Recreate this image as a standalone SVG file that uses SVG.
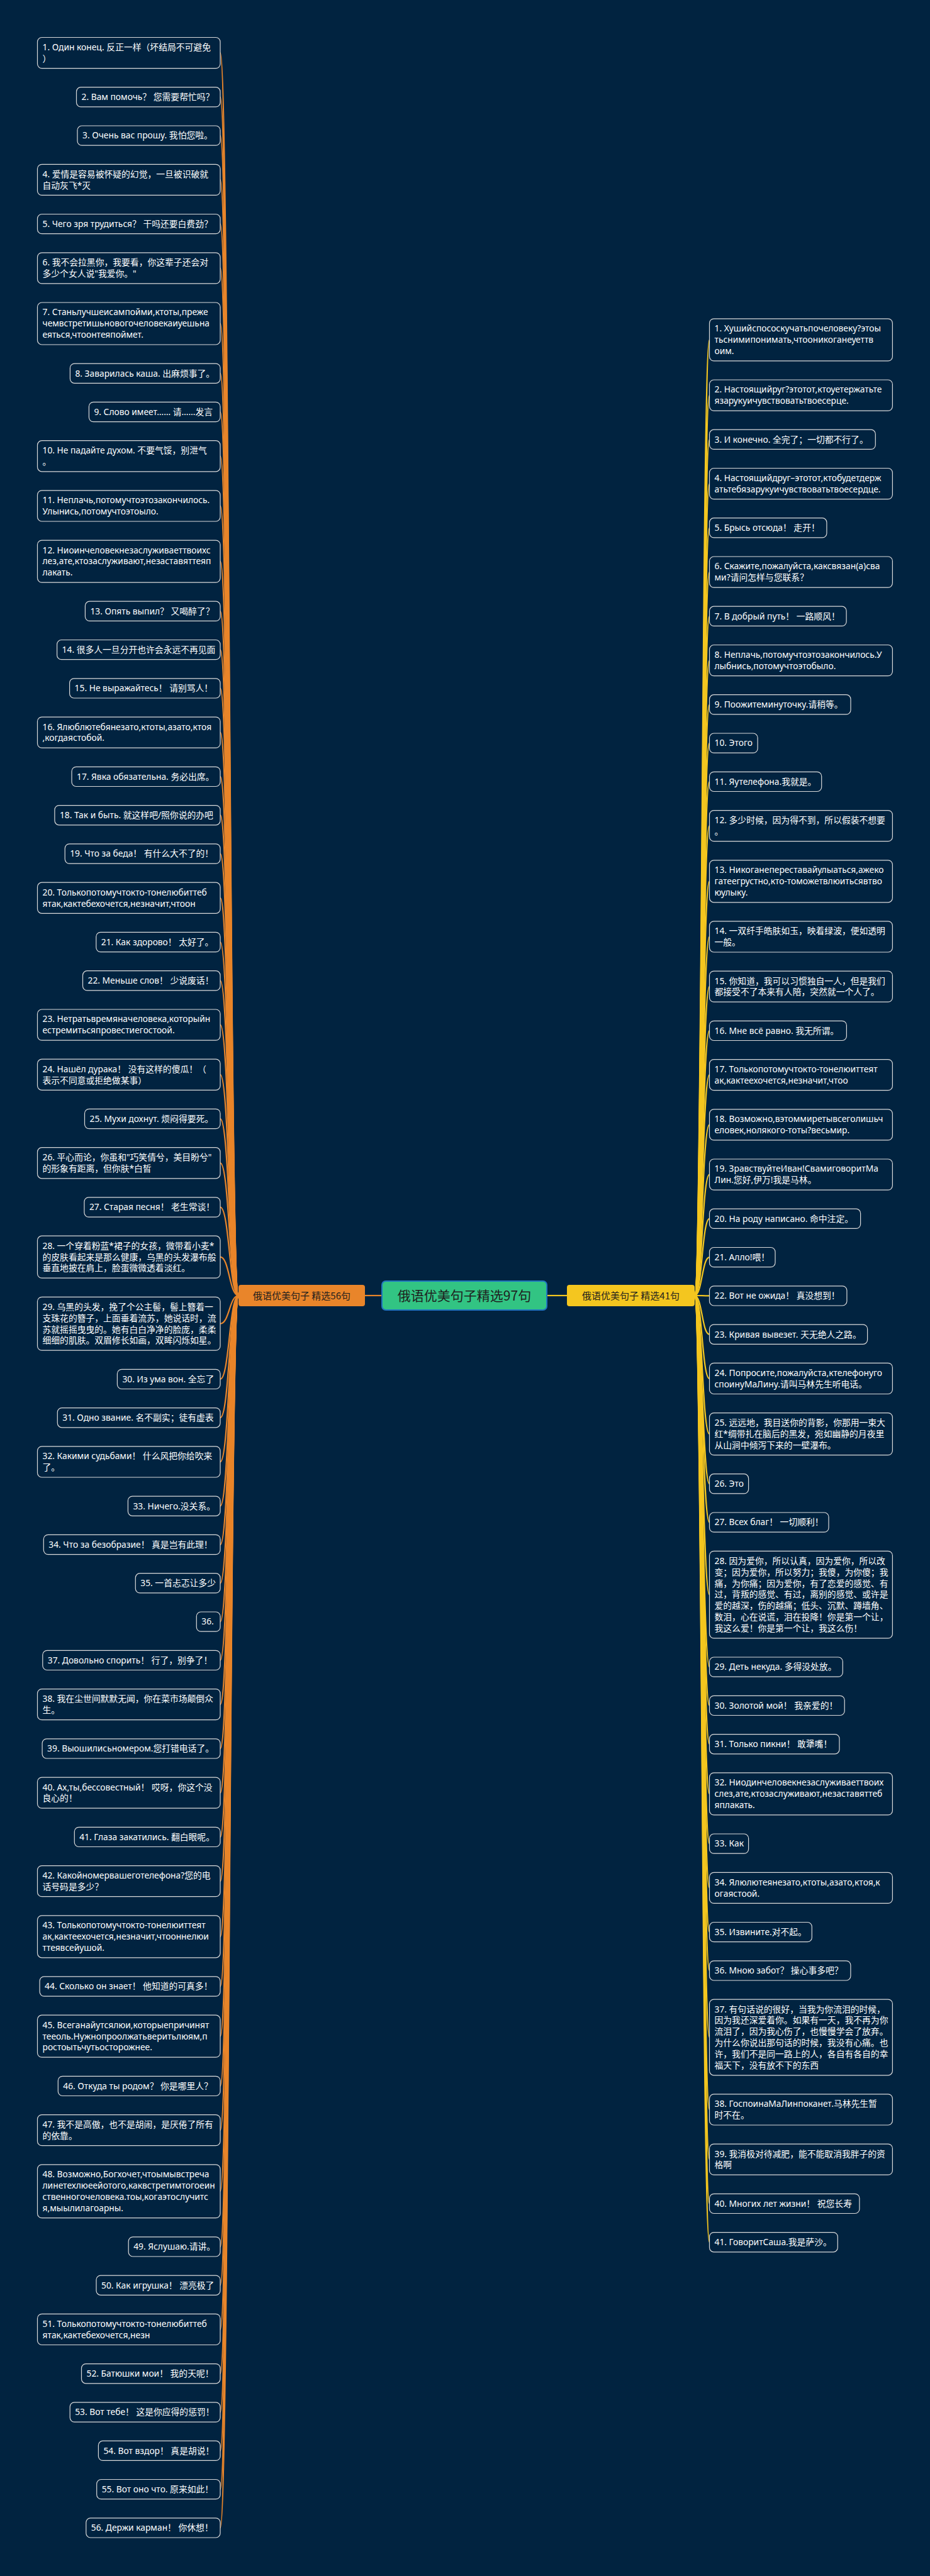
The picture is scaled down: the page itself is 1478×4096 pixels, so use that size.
<svg xmlns="http://www.w3.org/2000/svg" width="1478" height="4096" viewBox="0 0 1478 4096">
<style>
.n rect{fill:#012340;stroke:#d9d9d9;stroke-width:1.2}
.n text{font-family:'Noto Sans','Noto Sans CJK SC',sans-serif;font-size:13.8px;fill:#ffffff}
.lc path{fill:none;stroke:#e9852a;stroke-width:2.2}
.rc path{fill:none;stroke:#f4c61f;stroke-width:2.2}
.lab{font-family:'Noto Sans CJK SC','Noto Sans',sans-serif;fill:#1e1e1e;text-anchor:middle}
</style>
<rect x="0" y="0" width="1478" height="4096" fill="#012340"/>
<g id="connectors">
<g class="lc">
<path d="M580 2060 L607 2060"/>
<path d="M379 2060 C364.5 2060 364.5 84.05 350 84.05"/>
<path d="M379 2060 C364.5 2060 364.5 154.3 350 154.3"/>
<path d="M379 2060 C364.5 2060 364.5 215.6 350 215.6"/>
<path d="M379 2060 C364.5 2060 364.5 285.85 350 285.85"/>
<path d="M379 2060 C364.5 2060 364.5 356.1 350 356.1"/>
<path d="M379 2060 C364.5 2060 364.5 426.35 350 426.35"/>
<path d="M379 2060 C364.5 2060 364.5 514.5 350 514.5"/>
<path d="M379 2060 C364.5 2060 364.5 593.7 350 593.7"/>
<path d="M379 2060 C364.5 2060 364.5 655 350 655"/>
<path d="M379 2060 C364.5 2060 364.5 725.25 350 725.25"/>
<path d="M379 2060 C364.5 2060 364.5 804.45 350 804.45"/>
<path d="M379 2060 C364.5 2060 364.5 892.6 350 892.6"/>
<path d="M379 2060 C364.5 2060 364.5 971.8 350 971.8"/>
<path d="M379 2060 C364.5 2060 364.5 1033.1 350 1033.1"/>
<path d="M379 2060 C364.5 2060 364.5 1094.4 350 1094.4"/>
<path d="M379 2060 C364.5 2060 364.5 1164.65 350 1164.65"/>
<path d="M379 2060 C364.5 2060 364.5 1234.9 350 1234.9"/>
<path d="M379 2060 C364.5 2060 364.5 1296.2 350 1296.2"/>
<path d="M379 2060 C364.5 2060 364.5 1357.5 350 1357.5"/>
<path d="M379 2060 C364.5 2060 364.5 1427.75 350 1427.75"/>
<path d="M379 2060 C364.5 2060 364.5 1498 350 1498"/>
<path d="M379 2060 C364.5 2060 364.5 1559.3 350 1559.3"/>
<path d="M379 2060 C364.5 2060 364.5 1629.55 350 1629.55"/>
<path d="M379 2060 C364.5 2060 364.5 1708.75 350 1708.75"/>
<path d="M379 2060 C364.5 2060 364.5 1779 350 1779"/>
<path d="M379 2060 C364.5 2060 364.5 1849.25 350 1849.25"/>
<path d="M379 2060 C364.5 2060 364.5 1919.5 350 1919.5"/>
<path d="M379 2060 C364.5 2060 364.5 1998.7 350 1998.7"/>
<path d="M379 2060 C364.5 2060 364.5 2104.75 350 2104.75"/>
<path d="M379 2060 C364.5 2060 364.5 2192.9 350 2192.9"/>
<path d="M379 2060 C364.5 2060 364.5 2254.2 350 2254.2"/>
<path d="M379 2060 C364.5 2060 364.5 2324.45 350 2324.45"/>
<path d="M379 2060 C364.5 2060 364.5 2394.7 350 2394.7"/>
<path d="M379 2060 C364.5 2060 364.5 2456 350 2456"/>
<path d="M379 2060 C364.5 2060 364.5 2517.3 350 2517.3"/>
<path d="M379 2060 C364.5 2060 364.5 2578.6 350 2578.6"/>
<path d="M379 2060 C364.5 2060 364.5 2639.9 350 2639.9"/>
<path d="M379 2060 C364.5 2060 364.5 2710.15 350 2710.15"/>
<path d="M379 2060 C364.5 2060 364.5 2780.4 350 2780.4"/>
<path d="M379 2060 C364.5 2060 364.5 2850.65 350 2850.65"/>
<path d="M379 2060 C364.5 2060 364.5 2920.9 350 2920.9"/>
<path d="M379 2060 C364.5 2060 364.5 2991.15 350 2991.15"/>
<path d="M379 2060 C364.5 2060 364.5 3079.3 350 3079.3"/>
<path d="M379 2060 C364.5 2060 364.5 3158.5 350 3158.5"/>
<path d="M379 2060 C364.5 2060 364.5 3237.7 350 3237.7"/>
<path d="M379 2060 C364.5 2060 364.5 3316.9 350 3316.9"/>
<path d="M379 2060 C364.5 2060 364.5 3387.15 350 3387.15"/>
<path d="M379 2060 C364.5 2060 364.5 3484.25 350 3484.25"/>
<path d="M379 2060 C364.5 2060 364.5 3572.4 350 3572.4"/>
<path d="M379 2060 C364.5 2060 364.5 3633.7 350 3633.7"/>
<path d="M379 2060 C364.5 2060 364.5 3703.95 350 3703.95"/>
<path d="M379 2060 C364.5 2060 364.5 3774.2 350 3774.2"/>
<path d="M379 2060 C364.5 2060 364.5 3835.5 350 3835.5"/>
<path d="M379 2060 C364.5 2060 364.5 3896.8 350 3896.8"/>
<path d="M379 2060 C364.5 2060 364.5 3958.1 350 3958.1"/>
<path d="M379 2060 C364.5 2060 364.5 4019.4 350 4019.4"/>
</g>
<g class="rc">
<path d="M869 2060 L901 2060"/>
<path d="M1104 2060 C1115.75 2060 1115.75 540.4 1127.5 540.4"/>
<path d="M1104 2060 C1115.75 2060 1115.75 628.55 1127.5 628.55"/>
<path d="M1104 2060 C1115.75 2060 1115.75 698.8 1127.5 698.8"/>
<path d="M1104 2060 C1115.75 2060 1115.75 769.05 1127.5 769.05"/>
<path d="M1104 2060 C1115.75 2060 1115.75 839.3 1127.5 839.3"/>
<path d="M1104 2060 C1115.75 2060 1115.75 909.55 1127.5 909.55"/>
<path d="M1104 2060 C1115.75 2060 1115.75 979.8 1127.5 979.8"/>
<path d="M1104 2060 C1115.75 2060 1115.75 1050.05 1127.5 1050.05"/>
<path d="M1104 2060 C1115.75 2060 1115.75 1120.3 1127.5 1120.3"/>
<path d="M1104 2060 C1115.75 2060 1115.75 1181.6 1127.5 1181.6"/>
<path d="M1104 2060 C1115.75 2060 1115.75 1242.9 1127.5 1242.9"/>
<path d="M1104 2060 C1115.75 2060 1115.75 1313.15 1127.5 1313.15"/>
<path d="M1104 2060 C1115.75 2060 1115.75 1401.3 1127.5 1401.3"/>
<path d="M1104 2060 C1115.75 2060 1115.75 1489.45 1127.5 1489.45"/>
<path d="M1104 2060 C1115.75 2060 1115.75 1568.65 1127.5 1568.65"/>
<path d="M1104 2060 C1115.75 2060 1115.75 1638.9 1127.5 1638.9"/>
<path d="M1104 2060 C1115.75 2060 1115.75 1709.15 1127.5 1709.15"/>
<path d="M1104 2060 C1115.75 2060 1115.75 1788.35 1127.5 1788.35"/>
<path d="M1104 2060 C1115.75 2060 1115.75 1867.55 1127.5 1867.55"/>
<path d="M1104 2060 C1115.75 2060 1115.75 1937.8 1127.5 1937.8"/>
<path d="M1104 2060 C1115.75 2060 1115.75 1999.1 1127.5 1999.1"/>
<path d="M1104 2060 C1115.75 2060 1115.75 2060.4 1127.5 2060.4"/>
<path d="M1104 2060 C1115.75 2060 1115.75 2121.7 1127.5 2121.7"/>
<path d="M1104 2060 C1115.75 2060 1115.75 2191.95 1127.5 2191.95"/>
<path d="M1104 2060 C1115.75 2060 1115.75 2280.1 1127.5 2280.1"/>
<path d="M1104 2060 C1115.75 2060 1115.75 2359.3 1127.5 2359.3"/>
<path d="M1104 2060 C1115.75 2060 1115.75 2420.6 1127.5 2420.6"/>
<path d="M1104 2060 C1115.75 2060 1115.75 2535.6 1127.5 2535.6"/>
<path d="M1104 2060 C1115.75 2060 1115.75 2650.6 1127.5 2650.6"/>
<path d="M1104 2060 C1115.75 2060 1115.75 2711.9 1127.5 2711.9"/>
<path d="M1104 2060 C1115.75 2060 1115.75 2773.2 1127.5 2773.2"/>
<path d="M1104 2060 C1115.75 2060 1115.75 2852.4 1127.5 2852.4"/>
<path d="M1104 2060 C1115.75 2060 1115.75 2931.6 1127.5 2931.6"/>
<path d="M1104 2060 C1115.75 2060 1115.75 3001.85 1127.5 3001.85"/>
<path d="M1104 2060 C1115.75 2060 1115.75 3072.1 1127.5 3072.1"/>
<path d="M1104 2060 C1115.75 2060 1115.75 3133.4 1127.5 3133.4"/>
<path d="M1104 2060 C1115.75 2060 1115.75 3239.45 1127.5 3239.45"/>
<path d="M1104 2060 C1115.75 2060 1115.75 3354.45 1127.5 3354.45"/>
<path d="M1104 2060 C1115.75 2060 1115.75 3433.65 1127.5 3433.65"/>
<path d="M1104 2060 C1115.75 2060 1115.75 3503.9 1127.5 3503.9"/>
<path d="M1104 2060 C1115.75 2060 1115.75 3565.2 1127.5 3565.2"/>
</g>
</g>
<g id="center"><rect x="607" y="2037" width="262" height="46" rx="6" fill="#32c483" stroke="#1f74c0" stroke-width="2"/><text class="lab" x="738" y="2068" font-size="21">俄语优美句子精选97句</text></g>
<g id="branch-left"><rect x="379" y="2043" width="201" height="34" rx="4" fill="#e9852a"/><text class="lab" x="479.5" y="2065.5" font-size="15">俄语优美句子 精选56句</text></g>
<g id="branch-right"><rect x="901" y="2043" width="203" height="34" rx="4" fill="#f4c61f"/><text class="lab" x="1002.5" y="2065.5" font-size="15">俄语优美句子 精选41句</text></g>
<g class="n">
<g id="l1"><rect x="59.5" y="59.5" width="290.5" height="49.1" rx="7"/><text x="67.5" y="79.9"><tspan x="67.5">1. Один конец. 反正一样（坏结局不可避免</tspan><tspan x="67.5" dy="17.9">）</tspan></text></g>
<g id="l2"><rect x="121.5" y="138.7" width="228.5" height="31.2" rx="7"/><text x="129.5" y="159.1">2. Вам помочь？ 您需要帮忙吗？</text></g>
<g id="l3"><rect x="123" y="200" width="227" height="31.2" rx="7"/><text x="131" y="220.4">3. Очень вас прошу. 我怕您啦。</text></g>
<g id="l4"><rect x="59.5" y="261.3" width="290.5" height="49.1" rx="7"/><text x="67.5" y="281.7"><tspan x="67.5">4. 爱情是容易被怀疑的幻觉，一旦被识破就</tspan><tspan x="67.5" dy="17.9">自动灰飞*灭</tspan></text></g>
<g id="l5"><rect x="59.5" y="340.5" width="290.5" height="31.2" rx="7"/><text x="67.5" y="360.9">5. Чего зря трудиться？ 干吗还要白费劲？</text></g>
<g id="l6"><rect x="59.5" y="401.8" width="290.5" height="49.1" rx="7"/><text x="67.5" y="422.2"><tspan x="67.5">6. 我不会拉黑你，我要看，你这辈子还会对</tspan><tspan x="67.5" dy="17.9">多少个女人说"我爱你。"</tspan></text></g>
<g id="l7"><rect x="59.5" y="481" width="290.5" height="67" rx="7"/><text x="67.5" y="501.4"><tspan x="67.5">7. Станьлучшеисампойми,ктоты,преже</tspan><tspan x="67.5" dy="17.9">чемвстретишьновогочеловекаиуешьна</tspan><tspan x="67.5" dy="17.9">еяться,чтоонтеяпоймет.</tspan></text></g>
<g id="l8"><rect x="111.4" y="578.1" width="238.6" height="31.2" rx="7"/><text x="119.4" y="598.5">8. Заварилась каша. 出麻烦事了。</text></g>
<g id="l9"><rect x="141.4" y="639.4" width="208.6" height="31.2" rx="7"/><text x="149.4" y="659.8">9. Слово имеет…… 请……发言</text></g>
<g id="l10"><rect x="59.5" y="700.7" width="290.5" height="49.1" rx="7"/><text x="67.5" y="721.1"><tspan x="67.5">10. Не падайте духом. 不要气馁，别泄气</tspan><tspan x="67.5" dy="17.9">。</tspan></text></g>
<g id="l11"><rect x="59.5" y="779.9" width="290.5" height="49.1" rx="7"/><text x="67.5" y="800.3"><tspan x="67.5">11. Неплачь,потомучтоэтозакончилось.</tspan><tspan x="67.5" dy="17.9">Улынись,потомучтоэтоыло.</tspan></text></g>
<g id="l12"><rect x="59.5" y="859.1" width="290.5" height="67" rx="7"/><text x="67.5" y="879.5"><tspan x="67.5">12. Ниоинчеловекнезаслуживаеттвоихс</tspan><tspan x="67.5" dy="17.9">лез,ате,ктозаслуживают,незаставяттеяп</tspan><tspan x="67.5" dy="17.9">лакать.</tspan></text></g>
<g id="l13"><rect x="135.4" y="956.2" width="214.6" height="31.2" rx="7"/><text x="143.4" y="976.6">13. Опять выпил？ 又喝醉了？</text></g>
<g id="l14"><rect x="90.6" y="1017.5" width="259.4" height="31.2" rx="7"/><text x="98.6" y="1037.9">14. 很多人一旦分开也许会永远不再见面</text></g>
<g id="l15"><rect x="110.6" y="1078.8" width="239.4" height="31.2" rx="7"/><text x="118.6" y="1099.2">15. Не выражайтесь！ 请别骂人！</text></g>
<g id="l16"><rect x="59.5" y="1140.1" width="290.5" height="49.1" rx="7"/><text x="67.5" y="1160.5"><tspan x="67.5">16. Ялюблютебянезато,ктоты,азато,ктоя</tspan><tspan x="67.5" dy="17.9">,когдаястобой.</tspan></text></g>
<g id="l17"><rect x="114" y="1219.3" width="236" height="31.2" rx="7"/><text x="122" y="1239.7">17. Явка обязательна. 务必出席。</text></g>
<g id="l18"><rect x="86.9" y="1280.6" width="263.1" height="31.2" rx="7"/><text x="94.9" y="1301">18. Так и быть. 就这样吧/照你说的办吧</text></g>
<g id="l19"><rect x="103.2" y="1341.9" width="246.8" height="31.2" rx="7"/><text x="111.2" y="1362.3">19. Что за беда！ 有什么大不了的！</text></g>
<g id="l20"><rect x="59.5" y="1403.2" width="290.5" height="49.1" rx="7"/><text x="67.5" y="1423.6"><tspan x="67.5">20. Толькопотомучтокто-тонелюбиттеб</tspan><tspan x="67.5" dy="17.9">ятак,кактебехочется,незначит,чтоон</tspan></text></g>
<g id="l21"><rect x="152.8" y="1482.4" width="197.2" height="31.2" rx="7"/><text x="160.8" y="1502.8">21. Как здорово！ 太好了。</text></g>
<g id="l22"><rect x="131.5" y="1543.7" width="218.5" height="31.2" rx="7"/><text x="139.5" y="1564.1">22. Меньше слов！ 少说废话！</text></g>
<g id="l23"><rect x="59.5" y="1605" width="290.5" height="49.1" rx="7"/><text x="67.5" y="1625.4"><tspan x="67.5">23. Нетратьвремяначеловека,которыйн</tspan><tspan x="67.5" dy="17.9">естремитьсяпровестиегостоой.</tspan></text></g>
<g id="l24"><rect x="59.5" y="1684.2" width="290.5" height="49.1" rx="7"/><text x="67.5" y="1704.6"><tspan x="67.5">24. Нашёл дурака！ 没有这样的傻瓜！（</tspan><tspan x="67.5" dy="17.9">表示不同意或拒绝做某事）</tspan></text></g>
<g id="l25"><rect x="134.5" y="1763.4" width="215.5" height="31.2" rx="7"/><text x="142.5" y="1783.8">25. Мухи дохнут. 烦闷得要死。</text></g>
<g id="l26"><rect x="59.5" y="1824.7" width="290.5" height="49.1" rx="7"/><text x="67.5" y="1845.1"><tspan x="67.5">26. 平心而论，你虽和"巧笑倩兮，美目盼兮"</tspan><tspan x="67.5" dy="17.9">的形象有距离，但你肤*白皙</tspan></text></g>
<g id="l27"><rect x="133.9" y="1903.9" width="216.1" height="31.2" rx="7"/><text x="141.9" y="1924.3">27. Старая песня！ 老生常谈！</text></g>
<g id="l28"><rect x="59.5" y="1965.2" width="290.5" height="67" rx="7"/><text x="67.5" y="1985.6"><tspan x="67.5">28. 一个穿着粉蓝*裙子的女孩，微带着小麦*</tspan><tspan x="67.5" dy="17.9">的皮肤看起来是那么健康，乌黑的头发瀑布般</tspan><tspan x="67.5" dy="17.9">垂直地披在肩上，脸蛋微微透着淡红。</tspan></text></g>
<g id="l29"><rect x="59.5" y="2062.3" width="290.5" height="84.9" rx="7"/><text x="67.5" y="2082.7"><tspan x="67.5">29. 乌黑的头发，挽了个公主髻，髻上簪着一</tspan><tspan x="67.5" dy="17.9">支珠花的簪子，上面垂着流苏，她说话时，流</tspan><tspan x="67.5" dy="17.9">苏就摇摇曳曳的。她有白白净净的脸庞，柔柔</tspan><tspan x="67.5" dy="17.9">细细的肌肤。双眉修长如画，双眸闪烁如星。</tspan></text></g>
<g id="l30"><rect x="186.4" y="2177.3" width="163.6" height="31.2" rx="7"/><text x="194.4" y="2197.7">30. Из ума вон. 全忘了</text></g>
<g id="l31"><rect x="91.3" y="2238.6" width="258.7" height="31.2" rx="7"/><text x="99.3" y="2259">31. Одно звание. 名不副实；徒有虚表</text></g>
<g id="l32"><rect x="59.5" y="2299.9" width="290.5" height="49.1" rx="7"/><text x="67.5" y="2320.3"><tspan x="67.5">32. Какими судьбами！ 什么风把你给吹来</tspan><tspan x="67.5" dy="17.9">了。</tspan></text></g>
<g id="l33"><rect x="203.4" y="2379.1" width="146.6" height="31.2" rx="7"/><text x="211.4" y="2399.5">33. Ничего.没关系。</text></g>
<g id="l34"><rect x="69.3" y="2440.4" width="280.7" height="31.2" rx="7"/><text x="77.3" y="2460.8">34. Что за безобразие！ 真是岂有此理！</text></g>
<g id="l35"><rect x="215.3" y="2501.7" width="134.7" height="31.2" rx="7"/><text x="223.3" y="2522.1">35. 一首忐忑让多少</text></g>
<g id="l36"><rect x="312.3" y="2563" width="37.7" height="31.2" rx="7"/><text x="320.3" y="2583.4">36.</text></g>
<g id="l37"><rect x="67.8" y="2624.3" width="282.2" height="31.2" rx="7"/><text x="75.8" y="2644.7">37. Довольно спорить！ 行了，别争了！</text></g>
<g id="l38"><rect x="59.5" y="2685.6" width="290.5" height="49.1" rx="7"/><text x="67.5" y="2706"><tspan x="67.5">38. 我在尘世间默默无闻，你在菜市场颠倒众</tspan><tspan x="67.5" dy="17.9">生。</tspan></text></g>
<g id="l39"><rect x="67.1" y="2764.8" width="282.9" height="31.2" rx="7"/><text x="75.1" y="2785.2">39. Выошилисьномером.您打错电话了。</text></g>
<g id="l40"><rect x="59.5" y="2826.1" width="290.5" height="49.1" rx="7"/><text x="67.5" y="2846.5"><tspan x="67.5">40. Ах,ты,бессовестный！ 哎呀，你这个没</tspan><tspan x="67.5" dy="17.9">良心的！</tspan></text></g>
<g id="l41"><rect x="118.3" y="2905.3" width="231.7" height="31.2" rx="7"/><text x="126.3" y="2925.7">41. Глаза закатились. 翻白眼呢。</text></g>
<g id="l42"><rect x="59.5" y="2966.6" width="290.5" height="49.1" rx="7"/><text x="67.5" y="2987"><tspan x="67.5">42. Какойномервашеготелефона?您的电</tspan><tspan x="67.5" dy="17.9">话号码是多少？</tspan></text></g>
<g id="l43"><rect x="59.5" y="3045.8" width="290.5" height="67" rx="7"/><text x="67.5" y="3066.2"><tspan x="67.5">43. Толькопотомучтокто-тонелюиттеят</tspan><tspan x="67.5" dy="17.9">ак,кактеехочется,незначит,чтооннелюи</tspan><tspan x="67.5" dy="17.9">ттеявсейушой.</tspan></text></g>
<g id="l44"><rect x="63.1" y="3142.9" width="286.9" height="31.2" rx="7"/><text x="71.1" y="3163.3">44. Сколько он знает！ 他知道的可真多！</text></g>
<g id="l45"><rect x="59.5" y="3204.2" width="290.5" height="67" rx="7"/><text x="67.5" y="3224.6"><tspan x="67.5">45. Всеганайутсялюи,которыепричинят</tspan><tspan x="67.5" dy="17.9">тееоль.Нужнопроолжатьверитьлюям,п</tspan><tspan x="67.5" dy="17.9">ростоытьчутьосторожнее.</tspan></text></g>
<g id="l46"><rect x="92.3" y="3301.3" width="257.7" height="31.2" rx="7"/><text x="100.3" y="3321.7">46. Откуда ты родом？ 你是哪里人？</text></g>
<g id="l47"><rect x="59.5" y="3362.6" width="290.5" height="49.1" rx="7"/><text x="67.5" y="3383"><tspan x="67.5">47. 我不是高傲，也不是胡闹，是厌倦了所有</tspan><tspan x="67.5" dy="17.9">的依靠。</tspan></text></g>
<g id="l48"><rect x="59.5" y="3441.8" width="290.5" height="84.9" rx="7"/><text x="67.5" y="3462.2"><tspan x="67.5">48. Возможно,Богхочет,чтоымывстреча</tspan><tspan x="67.5" dy="17.9">линетехлюеейотого,каквстретимтогоеин</tspan><tspan x="67.5" dy="17.9">ственногочеловека.тоы,когаэтослучитс</tspan><tspan x="67.5" dy="17.9">я,мыылилагоарны.</tspan></text></g>
<g id="l49"><rect x="204.2" y="3556.8" width="145.8" height="31.2" rx="7"/><text x="212.2" y="3577.2">49. Яслушаю.请讲。</text></g>
<g id="l50"><rect x="153" y="3618.1" width="197" height="31.2" rx="7"/><text x="161" y="3638.5">50. Как игрушка！ 漂亮极了</text></g>
<g id="l51"><rect x="59.5" y="3679.4" width="290.5" height="49.1" rx="7"/><text x="67.5" y="3699.8"><tspan x="67.5">51. Толькопотомучтокто-тонелюбиттеб</tspan><tspan x="67.5" dy="17.9">ятак,кактебехочется,незн</tspan></text></g>
<g id="l52"><rect x="129.5" y="3758.6" width="220.5" height="31.2" rx="7"/><text x="137.5" y="3779">52. Батюшки мои！ 我的天呢！</text></g>
<g id="l53"><rect x="111.2" y="3819.9" width="238.8" height="31.2" rx="7"/><text x="119.2" y="3840.3">53. Вот тебе！ 这是你应得的惩罚！</text></g>
<g id="l54"><rect x="156.4" y="3881.2" width="193.6" height="31.2" rx="7"/><text x="164.4" y="3901.6">54. Вот вздор！ 真是胡说！</text></g>
<g id="l55"><rect x="153.7" y="3942.5" width="196.3" height="31.2" rx="7"/><text x="161.7" y="3962.9">55. Вот оно что. 原来如此！</text></g>
<g id="l56"><rect x="136.8" y="4003.8" width="213.2" height="31.2" rx="7"/><text x="144.8" y="4024.2">56. Держи карман！ 你休想！</text></g>

<g id="r1"><rect x="1127.5" y="506.9" width="290.9" height="67" rx="7"/><text x="1135.5" y="527.3"><tspan x="1135.5">1. Хушийспососкучатьпочеловеку?этоы</tspan><tspan x="1135.5" dy="17.9">тьснимипонимать,чтооникоганеуеттв</tspan><tspan x="1135.5" dy="17.9">оим.</tspan></text></g>
<g id="r2"><rect x="1127.5" y="604" width="290.9" height="49.1" rx="7"/><text x="1135.5" y="624.4"><tspan x="1135.5">2. Настоящийруг?этотот,ктоуетержатьте</tspan><tspan x="1135.5" dy="17.9">язарукуичувствоватьтвоесерце.</tspan></text></g>
<g id="r3"><rect x="1127.5" y="683.2" width="263.8" height="31.2" rx="7"/><text x="1135.5" y="703.6">3. И конечно. 全完了；一切都不行了。</text></g>
<g id="r4"><rect x="1127.5" y="744.5" width="290.9" height="49.1" rx="7"/><text x="1135.5" y="764.9"><tspan x="1135.5">4. Настоящийдруг–этотот,ктобудетдерж</tspan><tspan x="1135.5" dy="17.9">атьтебязарукуичувствоватьтвоесердце.</tspan></text></g>
<g id="r5"><rect x="1127.5" y="823.7" width="186.4" height="31.2" rx="7"/><text x="1135.5" y="844.1">5. Брысь отсюда！ 走开！</text></g>
<g id="r6"><rect x="1127.5" y="885" width="290.9" height="49.1" rx="7"/><text x="1135.5" y="905.4"><tspan x="1135.5">6. Скажите,пожалуйста,каксвязан(а)сва</tspan><tspan x="1135.5" dy="17.9">ми?请问怎样与您联系？</tspan></text></g>
<g id="r7"><rect x="1127.5" y="964.2" width="217.6" height="31.2" rx="7"/><text x="1135.5" y="984.6">7. В добрый путь！ 一路顺风！</text></g>
<g id="r8"><rect x="1127.5" y="1025.5" width="290.9" height="49.1" rx="7"/><text x="1135.5" y="1045.9"><tspan x="1135.5">8. Неплачь,потомучтоэтозакончилось.У</tspan><tspan x="1135.5" dy="17.9">лыбнись,потомучтоэтобыло.</tspan></text></g>
<g id="r9"><rect x="1127.5" y="1104.7" width="224.5" height="31.2" rx="7"/><text x="1135.5" y="1125.1">9. Поожитеминуточку.请稍等。</text></g>
<g id="r10"><rect x="1127.5" y="1166" width="76.6" height="31.2" rx="7"/><text x="1135.5" y="1186.4">10. Этого</text></g>
<g id="r11"><rect x="1127.5" y="1227.3" width="178.2" height="31.2" rx="7"/><text x="1135.5" y="1247.7">11. Яутелефона.我就是。</text></g>
<g id="r12"><rect x="1127.5" y="1288.6" width="290.9" height="49.1" rx="7"/><text x="1135.5" y="1309"><tspan x="1135.5">12. 多少时候，因为得不到，所以假装不想要</tspan><tspan x="1135.5" dy="17.9">。</tspan></text></g>
<g id="r13"><rect x="1127.5" y="1367.8" width="290.9" height="67" rx="7"/><text x="1135.5" y="1388.2"><tspan x="1135.5">13. Никоганепереставайулыаться,ажеко</tspan><tspan x="1135.5" dy="17.9">гатеегрустно,кто-томожетвлюитьсявтво</tspan><tspan x="1135.5" dy="17.9">юулыку.</tspan></text></g>
<g id="r14"><rect x="1127.5" y="1464.9" width="290.9" height="49.1" rx="7"/><text x="1135.5" y="1485.3"><tspan x="1135.5">14. 一双纤手皓肤如玉，映着绿波，便如透明</tspan><tspan x="1135.5" dy="17.9">一般。</tspan></text></g>
<g id="r15"><rect x="1127.5" y="1544.1" width="290.9" height="49.1" rx="7"/><text x="1135.5" y="1564.5"><tspan x="1135.5">15. 你知道，我可以习惯独自一人，但是我们</tspan><tspan x="1135.5" dy="17.9">都接受不了本来有人陪，突然就一个人了。</tspan></text></g>
<g id="r16"><rect x="1127.5" y="1623.3" width="217.9" height="31.2" rx="7"/><text x="1135.5" y="1643.7">16. Мне всё равно. 我无所谓。</text></g>
<g id="r17"><rect x="1127.5" y="1684.6" width="290.9" height="49.1" rx="7"/><text x="1135.5" y="1705"><tspan x="1135.5">17. Толькопотомучтокто-тонелюиттеят</tspan><tspan x="1135.5" dy="17.9">ак,кактеехочется,незначит,чтоо</tspan></text></g>
<g id="r18"><rect x="1127.5" y="1763.8" width="290.9" height="49.1" rx="7"/><text x="1135.5" y="1784.2"><tspan x="1135.5">18. Возможно,вэтоммиретывсеголишьч</tspan><tspan x="1135.5" dy="17.9">еловек,нолякого-тоты?весьмир.</tspan></text></g>
<g id="r19"><rect x="1127.5" y="1843" width="290.9" height="49.1" rx="7"/><text x="1135.5" y="1863.4"><tspan x="1135.5">19. ЗравствуйтеИван!СвамиговоритМа</tspan><tspan x="1135.5" dy="17.9">Лин.您好,伊万!我是马林。</tspan></text></g>
<g id="r20"><rect x="1127.5" y="1922.2" width="240.1" height="31.2" rx="7"/><text x="1135.5" y="1942.6">20. На роду написано. 命中注定。</text></g>
<g id="r21"><rect x="1127.5" y="1983.5" width="104.5" height="31.2" rx="7"/><text x="1135.5" y="2003.9">21. Алло!喂！</text></g>
<g id="r22"><rect x="1127.5" y="2044.8" width="218.4" height="31.2" rx="7"/><text x="1135.5" y="2065.2">22. Вот не ожида！ 真没想到！</text></g>
<g id="r23"><rect x="1127.5" y="2106.1" width="251.1" height="31.2" rx="7"/><text x="1135.5" y="2126.5">23. Кривая вывезет. 天无绝人之路。</text></g>
<g id="r24"><rect x="1127.5" y="2167.4" width="290.9" height="49.1" rx="7"/><text x="1135.5" y="2187.8"><tspan x="1135.5">24. Попросите,пожалуйста,ктелефонуго</tspan><tspan x="1135.5" dy="17.9">споинуМаЛину.请叫马林先生听电话。</tspan></text></g>
<g id="r25"><rect x="1127.5" y="2246.6" width="290.9" height="67" rx="7"/><text x="1135.5" y="2267"><tspan x="1135.5">25. 远远地，我目送你的背影，你那用一束大</tspan><tspan x="1135.5" dy="17.9">红*绸带扎在脑后的黑发，宛如幽静的月夜里</tspan><tspan x="1135.5" dy="17.9">从山涧中倾泻下来的一壁瀑布。</tspan></text></g>
<g id="r26"><rect x="1127.5" y="2343.7" width="62.1" height="31.2" rx="7"/><text x="1135.5" y="2364.1">26. Это</text></g>
<g id="r27"><rect x="1127.5" y="2405" width="189.5" height="31.2" rx="7"/><text x="1135.5" y="2425.4">27. Всех благ！ 一切顺利！</text></g>
<g id="r28"><rect x="1127.5" y="2466.3" width="290.9" height="138.6" rx="7"/><text x="1135.5" y="2486.7"><tspan x="1135.5">28. 因为爱你，所以认真，因为爱你，所以改</tspan><tspan x="1135.5" dy="17.9">变；因为爱你，所以努力；我傻，为你傻；我</tspan><tspan x="1135.5" dy="17.9">痛，为你痛；因为爱你，有了恋爱的感觉、有</tspan><tspan x="1135.5" dy="17.9">过，背叛的感觉、有过，离别的感觉、或许是</tspan><tspan x="1135.5" dy="17.9">爱的越深，伤的越痛；低头、沉默、蹲墙角、</tspan><tspan x="1135.5" dy="17.9">数泪，心在说谎，泪在投降！你是第一个让，</tspan><tspan x="1135.5" dy="17.9">我这么爱！你是第一个让，我这么伤！</tspan></text></g>
<g id="r29"><rect x="1127.5" y="2635" width="211.8" height="31.2" rx="7"/><text x="1135.5" y="2655.4">29. Деть некуда. 多得没处放。</text></g>
<g id="r30"><rect x="1127.5" y="2696.3" width="214.7" height="31.2" rx="7"/><text x="1135.5" y="2716.7">30. Золотой мой！ 我亲爱的！</text></g>
<g id="r31"><rect x="1127.5" y="2757.6" width="206.5" height="31.2" rx="7"/><text x="1135.5" y="2778">31. Только пикни！ 敢犟嘴！</text></g>
<g id="r32"><rect x="1127.5" y="2818.9" width="290.9" height="67" rx="7"/><text x="1135.5" y="2839.3"><tspan x="1135.5">32. Ниодинчеловекнезаслуживаеттвоих</tspan><tspan x="1135.5" dy="17.9">слез,ате,ктозаслуживают,незаставяттеб</tspan><tspan x="1135.5" dy="17.9">яплакать.</tspan></text></g>
<g id="r33"><rect x="1127.5" y="2916" width="62.1" height="31.2" rx="7"/><text x="1135.5" y="2936.4">33. Как</text></g>
<g id="r34"><rect x="1127.5" y="2977.3" width="290.9" height="49.1" rx="7"/><text x="1135.5" y="2997.7"><tspan x="1135.5">34. Ялюлютеянезато,ктоты,азато,ктоя,к</tspan><tspan x="1135.5" dy="17.9">огаястоой.</tspan></text></g>
<g id="r35"><rect x="1127.5" y="3056.5" width="162.8" height="31.2" rx="7"/><text x="1135.5" y="3076.9">35. Извините.对不起。</text></g>
<g id="r36"><rect x="1127.5" y="3117.8" width="224.4" height="31.2" rx="7"/><text x="1135.5" y="3138.2">36. Мною забот？ 操心事多吧？</text></g>
<g id="r37"><rect x="1127.5" y="3179.1" width="290.9" height="120.7" rx="7"/><text x="1135.5" y="3199.5"><tspan x="1135.5">37. 有句话说的很好，当我为你流泪的时候，</tspan><tspan x="1135.5" dy="17.9">因为我还深爱着你。如果有一天，我不再为你</tspan><tspan x="1135.5" dy="17.9">流泪了，因为我心伤了，也慢慢学会了放弃。</tspan><tspan x="1135.5" dy="17.9">为什么你说出那句话的时候，我没有心痛。也</tspan><tspan x="1135.5" dy="17.9">许，我们不是同一路上的人，各自有各自的幸</tspan><tspan x="1135.5" dy="17.9">福天下，没有放不下的东西</tspan></text></g>
<g id="r38"><rect x="1127.5" y="3329.9" width="290.9" height="49.1" rx="7"/><text x="1135.5" y="3350.3"><tspan x="1135.5">38. ГоспоинаМаЛинпоканет.马林先生暂</tspan><tspan x="1135.5" dy="17.9">时不在。</tspan></text></g>
<g id="r39"><rect x="1127.5" y="3409.1" width="290.9" height="49.1" rx="7"/><text x="1135.5" y="3429.5"><tspan x="1135.5">39. 我消极对待减肥，能不能取消我胖子的资</tspan><tspan x="1135.5" dy="17.9">格啊</tspan></text></g>
<g id="r40"><rect x="1127.5" y="3488.3" width="238.4" height="31.2" rx="7"/><text x="1135.5" y="3508.7">40. Многих лет жизни！ 祝您长寿</text></g>
<g id="r41"><rect x="1127.5" y="3549.6" width="203.8" height="31.2" rx="7"/><text x="1135.5" y="3570">41. ГоворитСаша.我是萨沙。</text></g>
</g>
</svg>
